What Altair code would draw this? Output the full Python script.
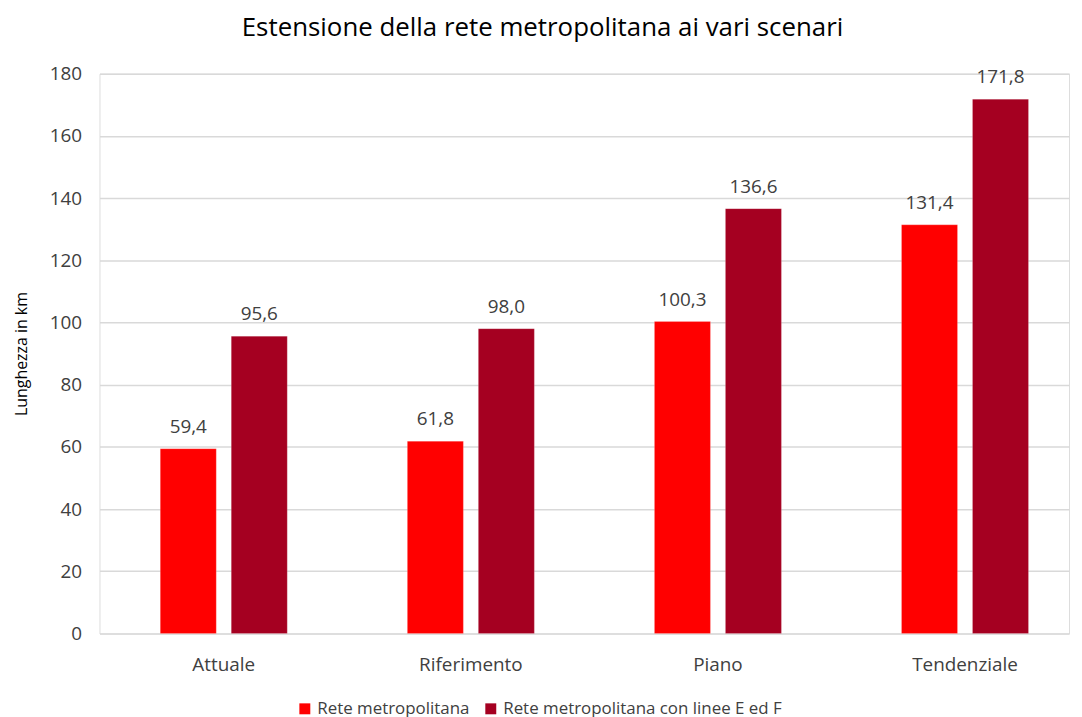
import altair as alt
import pandas as pd

scenari = ["Attuale", "Riferimento", "Piano", "Tendenziale"]
serie = ["Rete metropolitana", "Rete metropolitana con linee E ed F"]
rete = [59.4, 61.8, 100.3, 131.4]
rete_ef = [95.6, 98.0, 136.6, 171.8]
colori = ["#FF0000", "#A50021"]

rows = []
for i, s in enumerate(scenari):
    for name, vals in zip(serie, [rete, rete_ef]):
        v = vals[i]
        rows.append({"Scenario": s, "Serie": name, "Valore": v,
                     "Etichetta": f"{v:.1f}".replace(".", ",")})
df = pd.DataFrame(rows)

FONT = "Open Sans"
TXT = "#404040"

base = alt.Chart(df).encode(
    x=alt.X("Scenario:N", sort=scenari, title=None,
            scale=alt.Scale(paddingInner=0.486, paddingOuter=0.205, align=0.6),
            axis=alt.Axis(labelAngle=0, labelFontSize=19, labelColor=TXT,
                          labelFont=FONT, labelPadding=22, domain=False, ticks=False)),
    xOffset=alt.XOffset("Serie:N", sort=serie,
                        scale=alt.Scale(paddingInner=0.211, paddingOuter=0)),
)

bars = base.mark_bar(stroke="#ffffff", strokeWidth=0.5, strokeOpacity=0.4).encode(
    y=alt.Y("Valore:Q", title="Lunghezza in km",
            scale=alt.Scale(domain=[0, 180], nice=False),
            axis=alt.Axis(values=list(range(0, 181, 20)), labelFontSize=19,
                          labelColor=TXT, labelFont=FONT, labelPadding=18,
                          domain=False, ticks=False, gridColor="#d9d9d9",
                          gridWidth=1.5, titleFontSize=16, titleFont=FONT,
                          titleFontWeight="normal", titleColor="#000000",
                          titlePadding=20)),
    color=alt.Color("Serie:N", sort=serie,
                    scale=alt.Scale(domain=serie, range=colori),
                    legend=alt.Legend(title=None, orient="none", direction="horizontal",
                                      legendX=198, legendY=630, symbolType="square",
                                      symbolSize=121, symbolStrokeWidth=0,
                                      labelFontSize=17, labelFont=FONT, labelLimit=0,
                                      labelColor=TXT, columnPadding=12,
                                      symbolOpacity=1)),
)

labels = base.mark_text(fontSize=19, font=FONT, color=TXT, dy=-22,
                        baseline="middle").encode(
    y=alt.Y("Valore:Q"),
    text=alt.Text("Etichetta:N"),
)

chart = alt.layer(bars, labels).properties(
    width=975, height=563,
    title=alt.TitleParams("Estensione della rete metropolitana ai vari scenari",
                          fontSize=26, font=FONT, fontWeight="normal",
                          color="#000000", offset=24, anchor="middle", dx=-42),
).configure_view(stroke=None).configure(background="#ffffff")

chart.save("out.html", embed_options={"renderer": "svg", "actions": False})
